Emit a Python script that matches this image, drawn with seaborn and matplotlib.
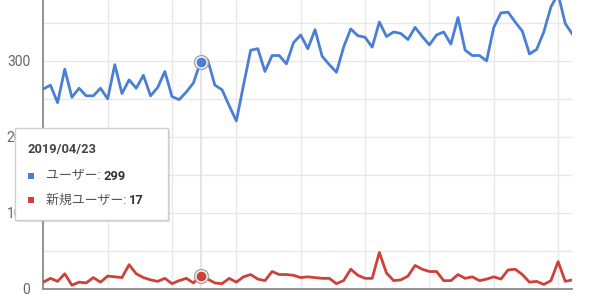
import numpy as np
import pandas as pd
import matplotlib
matplotlib.use("Agg")
import matplotlib.pyplot as plt
from matplotlib.patches import Rectangle
import seaborn as sns

# ---- data ----
users = [263, 268, 245, 289, 252, 264, 254, 254, 264, 250,
         295, 257, 275, 264, 281, 254, 265, 286, 253, 249,
         259, 271, 299, 301, 268, 262, 241, 221, 268, 314,
         316, 286, 307, 307, 296, 324, 334, 316, 341, 306,
         295, 285, 318, 342, 333, 331, 318, 351, 332, 338,
         336, 328, 344, 332, 321, 334, 338, 322, 357, 314,
         307, 307, 300, 344, 363, 364, 351, 339, 309, 315,
         338, 371, 388, 349, 335]
new_users = [9, 14, 10, 20, 5, 9, 8, 15, 9, 17,
             16, 15, 32, 20, 15, 12, 10, 14, 7, 11,
             14, 8, 17, 13, 8, 7, 14, 9, 16, 19,
             13, 11, 23, 19, 19, 18, 15, 16, 15, 14,
             14, 7, 11, 26, 18, 14, 14, 48, 21, 11,
             12, 17, 31, 26, 23, 23, 11, 11, 19, 14,
             16, 11, 13, 16, 13, 25, 26, 19, 9, 10,
             6, 11, 36, 10, 12]
series_names = ["ユーザー", "新規ユーザー"]
hover_idx = 22
hover_date = "2019/04/23"
y_ticks = [0, 50, 100, 150, 200, 250, 300, 350]
y_labels = ["0", "", "100", "", "200", "", "300", ""]
x_grid = list(range(9, 75, 9))

blue = "#4a7fd8"
red = "#cc4139"

n = len(users)
df = pd.DataFrame({
    "idx": list(range(n)) * 2,
    "value": users + new_users,
    "series": [series_names[0]] * n + [series_names[1]] * n,
})

sns.set_theme(style="white")
plt.rcParams["font.family"] = ["Roboto", "Noto Sans CJK JP", "DejaVu Sans"]

W, H = 592, 296
fig = plt.figure(figsize=(W / 100, H / 100), dpi=100)
ax = fig.add_axes([43.3 / W, 1 - 289 / H, (572.4 - 43.3) / W, 289 / H])

sns.lineplot(data=df, x="idx", y="value", hue="series",
             palette={series_names[0]: blue, series_names[1]: red},
             linewidth=2.0, legend=False, ax=ax, zorder=3)

ax.set_xlim(0, n - 1)
ax.set_ylim(0, 380)
ax.set_yticks(y_ticks)
ax.set_yticklabels(y_labels)
ax.set_xticks(x_grid)
ax.set_xticklabels([])
ax.tick_params(axis="both", length=0, labelsize=10, labelcolor="#666666", pad=9.5)
ax.grid(True, color="#e8e8e8", linewidth=1)
ax.set_xlabel("")
ax.set_ylabel("")
for s in ["top", "right"]:
    ax.spines[s].set_visible(False)
for s in ["left", "bottom"]:
    ax.spines[s].set_color("#8a8a8a")
    ax.spines[s].set_linewidth(1.3)

# hover crosshair and markers
ax.axvline(hover_idx, color="#e0e0e0", linewidth=1.2, zorder=1)
for vals, col in [(users, blue), (new_users, red)]:
    ax.plot([hover_idx], [vals[hover_idx]], "o", markersize=10,
            markerfacecolor="#ffffff", markeredgecolor="#9a9a9a",
            markeredgewidth=1.0, alpha=0.9, zorder=4)
    ax.plot([hover_idx], [vals[hover_idx]], "o", markersize=6,
            markerfacecolor=col, markeredgecolor=col, zorder=5)

# tooltip
bx, by, bw, bh = 15, 128, 153, 92
shadow = Rectangle(((bx + 1.5) / W, 1 - (by + bh + 2) / H), bw / W, bh / H,
                   transform=fig.transFigure, facecolor="#000000",
                   alpha=0.12, edgecolor="none", zorder=10)
box = Rectangle((bx / W, 1 - (by + bh) / H), bw / W, bh / H,
                transform=fig.transFigure, facecolor="white",
                edgecolor="#cfcfcf", linewidth=1, zorder=11)
fig.patches.extend([shadow, box])

fig.text(28 / W, 1 - 150 / H, hover_date, fontsize=9.3, fontweight="bold",
         color="#444444", va="center", ha="left", zorder=12)

fig.canvas.draw()
renderer = fig.canvas.get_renderer()
rows = [(176, blue, series_names[0], users[hover_idx]),
        (200, red, series_names[1], new_users[hover_idx])]
for yy, col, name, val in rows:
    fig.patches.append(Rectangle((27.5 / W, 1 - (yy + 3) / H), 6 / W, 6 / H,
                                 transform=fig.transFigure, facecolor=col,
                                 edgecolor="none", zorder=12))
    t = fig.text(45.5 / W, 1 - yy / H, name + ": ", fontsize=9.3,
                 color="#555555", va="center", ha="left", zorder=12)
    bb = t.get_window_extent(renderer=renderer)
    fig.text(bb.x1 / W, 1 - yy / H, str(val), fontsize=9.3, fontweight="bold",
             color="#333333", va="center", ha="left", zorder=12)

fig.savefig("out.png", dpi=100)
